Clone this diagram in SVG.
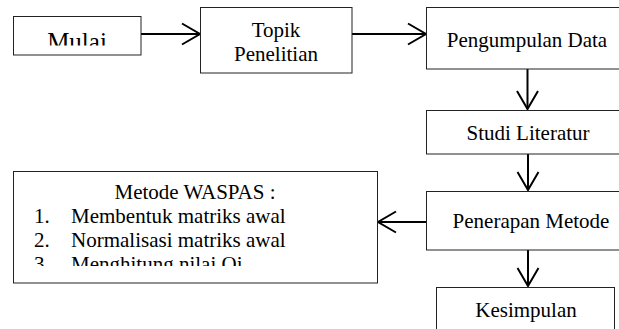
<svg xmlns="http://www.w3.org/2000/svg" width="619" height="329" viewBox="0 0 619 329">
  <style>
    .box { fill: #ffffff; stroke: #222222; stroke-width: 1; }
    .lbl { font-family: "Liberation Serif", "Times New Roman", serif; font-size: 21px; fill: #000000; }
    .mid { text-anchor: middle; }
    .conn { fill: none; stroke: #000000; stroke-width: 2; }
  </style>
  <defs>
    <marker id="arrow" markerUnits="userSpaceOnUse" markerWidth="24" markerHeight="26" refX="20" refY="12" orient="auto" viewBox="0 0 24 24">
      <path d="M2,1.5 L20,12 L2,22.5" fill="none" stroke="#000000" stroke-width="2"/>
    </marker>
    <clipPath id="clipMulai"><rect x="13" y="16" width="128" height="29.5"/></clipPath>
    <clipPath id="clipWaspas"><rect x="13" y="171" width="365" height="95"/></clipPath>
  </defs>
  <rect width="619" height="329" fill="#ffffff"/>

  <g id="connectors">
    <path class="conn" d="M141,34 L200,34" marker-end="url(#arrow)"/>
    <path class="conn" d="M352,34 L426,34" marker-end="url(#arrow)"/>
    <path class="conn" d="M527.5,69 L527.5,109" marker-end="url(#arrow)"/>
    <path class="conn" d="M528,154 L528,190" marker-end="url(#arrow)"/>
    <path class="conn" d="M426,222 L378,222" marker-end="url(#arrow)"/>
    <path class="conn" d="M528,250 L528,286" marker-end="url(#arrow)"/>
  </g>

  <g id="node-mulai">
    <rect class="box" x="13.5" y="16.5" width="127.5" height="38.5"/>
    <text class="lbl mid" x="77" y="50" style="font-size:25px" clip-path="url(#clipMulai)">Mulai</text>
  </g>

  <g id="node-topik">
    <rect class="box" x="200.5" y="7.5" width="151.5" height="65.5"/>
    <text class="lbl mid" x="276" y="37">Topik</text>
    <text class="lbl mid" x="276" y="61">Penelitian</text>
  </g>

  <g id="node-pengumpulan">
    <rect class="box" x="426.5" y="7.5" width="210" height="61.5"/>
    <text class="lbl mid" x="527" y="47">Pengumpulan Data</text>
  </g>

  <g id="node-studi">
    <rect class="box" x="426.5" y="110.5" width="210" height="43.5"/>
    <text class="lbl mid" x="528" y="139.5">Studi Literatur</text>
  </g>

  <g id="node-penerapan">
    <rect class="box" x="426.5" y="191.5" width="210" height="58.5"/>
    <text class="lbl mid" x="531" y="228">Penerapan Metode</text>
  </g>

  <g id="node-kesimpulan">
    <rect class="box" x="436.5" y="287.5" width="178" height="60"/>
    <text class="lbl mid" x="526" y="317">Kesimpulan</text>
  </g>

  <g id="node-waspas">
    <rect class="box" x="13.5" y="171.5" width="364" height="111.5"/>
    <g clip-path="url(#clipWaspas)">
      <text class="lbl mid" x="195" y="198.5">Metode WASPAS :</text>
      <text class="lbl" x="34" y="222.5">1.</text>
      <text class="lbl" x="71" y="222.5">Membentuk matriks awal</text>
      <text class="lbl" x="34" y="246.5">2.</text>
      <text class="lbl" x="71" y="246.5">Normalisasi matriks awal</text>
      <text class="lbl" x="34" y="270.5">3.</text>
      <text class="lbl" x="71" y="270.5">Menghitung nilai Qi</text>
    </g>
  </g>
</svg>
